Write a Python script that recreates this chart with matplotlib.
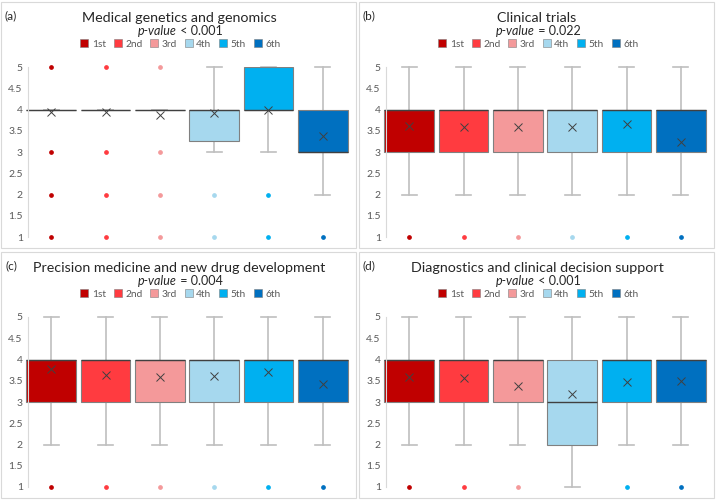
import matplotlib
matplotlib.use("Agg")
import matplotlib.pyplot as plt
from matplotlib.lines import Line2D
from matplotlib.patches import Rectangle
from matplotlib.ticker import FormatStrFormatter

plt.rcParams['font.family'] = ['Lato', 'DejaVu Sans']

# ---- data ----
grades = ["1st", "2nd", "3rd", "4th", "5th", "6th"]
colors = ["#C00000", "#FF3B40", "#F4999A", "#A6D8EE", "#00B0F0", "#0070C0"]

letters = ["(a)", "(b)", "(c)", "(d)"]
titles = ["Medical genetics and genomics", "Clinical trials",
          "Precision medicine and new drug development",
          "Diagnostics and clinical decision support"]
p_signs = ["<", "=", "=", "<"]
p_values = ["0.001", "0.022", "0.004", "0.001"]

# (a) medical genetics and genomics
a_q1 = [4, 4, 4, 3.25, 4, 3]
a_med = [4, 4, 4, 4, 4, 3]
a_q3 = [4, 4, 4, 4, 5, 4]
a_lo = [4, 4, 4, 3, 3, 2]
a_hi = [4, 4, 4, 5, 5, 5]
a_mean = [3.93, 3.95, 3.88, 3.92, 4.0, 3.38]
a_out = [[5, 3, 2, 1], [5, 3, 2, 1], [5, 3, 2, 1], [2, 1], [2, 1], [1]]

# (b) clinical trials
b_q1 = [3, 3, 3, 3, 3, 3]
b_med = [4, 4, 4, 4, 4, 4]
b_q3 = [4, 4, 4, 4, 4, 4]
b_lo = [2, 2, 2, 2, 2, 2]
b_hi = [5, 5, 5, 5, 5, 5]
b_mean = [3.62, 3.60, 3.58, 3.60, 3.66, 3.23]
b_out = [[1], [1], [1], [1], [1], [1]]

# (c) precision medicine and new drug development
c_q1 = [3, 3, 3, 3, 3, 3]
c_med = [4, 4, 4, 4, 4, 4]
c_q3 = [4, 4, 4, 4, 4, 4]
c_lo = [2, 2, 2, 2, 2, 2]
c_hi = [5, 5, 5, 5, 5, 5]
c_mean = [3.78, 3.63, 3.58, 3.62, 3.70, 3.43]
c_out = [[1], [1], [1], [1], [1], [1]]

# (d) diagnostics and clinical decision support
d_q1 = [3, 3, 3, 2, 3, 3]
d_med = [4, 4, 4, 3, 4, 4]
d_q3 = [4, 4, 4, 4, 4, 4]
d_lo = [2, 2, 2, 1, 2, 2]
d_hi = [5, 5, 5, 5, 5, 5]
d_mean = [3.60, 3.57, 3.37, 3.20, 3.47, 3.50]
d_out = [[1], [1], [1], [], [1], [1]]

panel_data = [
    (a_q1, a_med, a_q3, a_lo, a_hi, a_mean, a_out),
    (b_q1, b_med, b_q3, b_lo, b_hi, b_mean, b_out),
    (c_q1, c_med, c_q3, c_lo, c_hi, c_mean, c_out),
    (d_q1, d_med, d_q3, d_lo, d_hi, d_mean, d_out),
]

W, H = 718, 501
fig = plt.figure(figsize=(W / 100, H / 100), dpi=100)


def fx(x):
    return x / W


def fy(y):
    return 1 - y / H


offsets = [(0, 0), (358, 0), (0, 250), (358, 250)]
grey_txt = "#595959"

for i, (ox, oy) in enumerate(offsets):
    q1, med, q3, lo, hi, mean, out = panel_data[i]

    # panel frame
    fig.patches.append(Rectangle((fx(ox + 1), fy(oy + 248)), 355 / W, 246 / H,
                                 transform=fig.transFigure, fill=False,
                                 ec="#D9D9D9", lw=0.8))

    ax = fig.add_axes([fx(ox + 24), fy(oy + 237), 326 / W, 170 / H])

    stats = []
    for j in range(6):
        stats.append(dict(q1=q1[j], med=med[j], q3=q3[j], whislo=lo[j],
                          whishi=hi[j], mean=mean[j], fliers=out[j]))

    res = ax.bxp(stats, positions=range(1, 7), widths=0.92, capwidths=0.28,
                 patch_artist=True, showmeans=True,
                 boxprops=dict(edgecolor="#808080", linewidth=0.8),
                 medianprops=dict(color="#404040", linewidth=1.0),
                 whiskerprops=dict(color="#BFBFBF", linewidth=1.2),
                 capprops=dict(color="#BFBFBF", linewidth=1.2),
                 meanprops=dict(marker="x", markersize=5.5, markeredgecolor="#404040",
                                markeredgewidth=0.7),
                 flierprops=dict(marker="o", markersize=2.4, linestyle="none"))
    for j in range(6):
        res["boxes"][j].set_facecolor(colors[j])
        fl = res["fliers"][j]
        fl.set_markerfacecolor(colors[j])
        fl.set_markeredgecolor(colors[j])
        fl.set_clip_on(False)
    for ln in res["whiskers"] + res["caps"]:
        ln.set_clip_on(False)
        ln.set_zorder(1)

    ax.set_xlim(0.5, 6.5)
    ax.set_ylim(1, 5)
    ax.set_yticks([1, 1.5, 2, 2.5, 3, 3.5, 4, 4.5, 5])
    ax.yaxis.set_major_formatter(FormatStrFormatter("%g"))
    ax.set_xticks([])
    ax.tick_params(axis="y", length=0, pad=4, labelsize=7.5, labelcolor=grey_txt)
    for s in ["top", "right", "bottom"]:
        ax.spines[s].set_visible(False)
    ax.spines["left"].set_color("#D9D9D9")
    ax.spines["left"].set_position(("data", 0.58))

    # texts
    fig.text(fx(ox + 11), fy(oy + 16), letters[i], fontsize=8.5, ha="center",
             va="center", color="#262626")
    fig.text(fx(ox + 179), fy(oy + 22), titles[i], fontsize=10.3, ha="center",
             va="baseline", color="#262626")
    fig.text(fx(ox + 177), fy(oy + 35), "p-value", fontsize=9, style="italic",
             ha="right", va="baseline", color="#262626")
    fig.text(fx(ox + 177), fy(oy + 35), " %s %s" % (p_signs[i], p_values[i]),
             fontsize=9, ha="left", va="baseline", color="#262626")

    handles = [Line2D([], [], marker="s", linestyle="none", markersize=5.3,
                      markerfacecolor=c, markeredgecolor="#7F7F7F",
                      markeredgewidth=0.4) for c in colors]
    ax.legend(handles, grades, loc="center", ncol=6,
              bbox_to_anchor=(fx(ox + 181), fy(oy + 44)),
              bbox_transform=fig.transFigure, frameon=False, fontsize=7.3,
              labelcolor=grey_txt, handlelength=0.6, handletextpad=0.45,
              columnspacing=0.85, borderpad=0)

fig.savefig("out.png", dpi=100)
